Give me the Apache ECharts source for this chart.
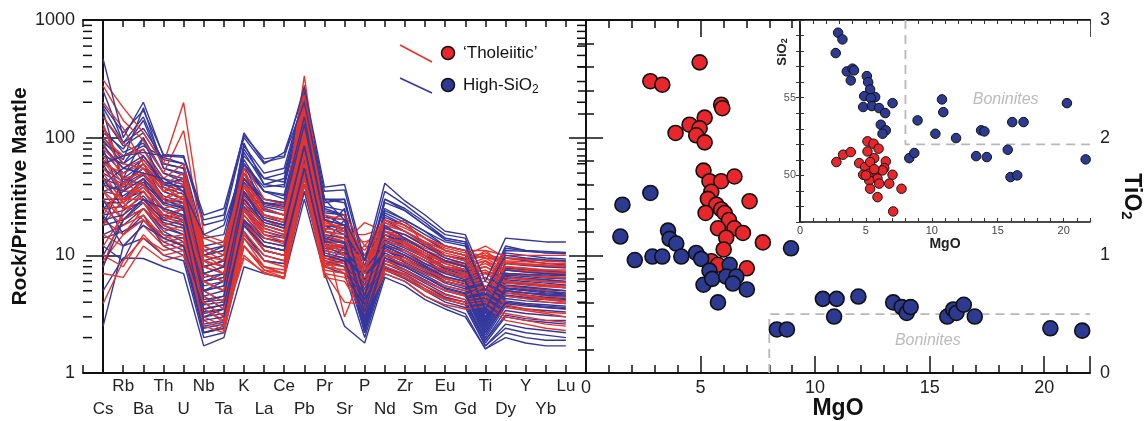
<!DOCTYPE html>
<html>
<head>
<meta charset="utf-8">
<script src="https://cdn.jsdelivr.net/npm/echarts@6/dist/echarts.min.js"></script>
<style>html,body{margin:0;padding:0;background:#fff}#chart{width:1146px;height:421px}</style>
</head>
<body>
<div id="chart"></div>
<script>
// spider diagram: elements in plotting order
var elements = ['Cs','Rb','Ba','Th','U','Nb','Ta','K','La','Ce','Pb','Pr','Sr','P','Nd','Zr','Sm','Eu','Gd','Ti','Dy','Y','Yb','Lu'];

// rock / primitive mantle, one row per sample
var tholeiiticLines = [
  [310,180,110,60,199,15,13,45,25,22,335,20,22,12,20,18,14,12,11,11,10,10,10,10],
  [275,140,95,50,115,12,10,40,22,20,280,18,18,10,18,16,13,11,10,12,9.5,9.3,9,9],
  [150,90,70,45,60,10,9,35,20,18,200,16,15,15,17,20,12,10,9,10,8.5,8.3,8.2,8],
  [120,60,55,30,40,8,7,30,18,16,160,14,13,19,16,14,11,9.5,8.5,11,8,7.8,7.5,7.5],
  [90,45,50,28,32,7,6,28,16,14,140,13,12,9,14,13,10,9,8,9,7.5,7.3,7,7],
  [70,40,40,25,28,6,5,25,15,13,120,12,11,8,13,12,9.5,8.5,7.5,8.5,7,6.8,6.5,6.4],
  [55,35,35,22,25,5,4,22,13,12,100,11,10,7,12,11,9,8,7,8,6.5,6.3,6,5.8],
  [45,30,30,20,22,4.5,3.5,20,12,11,90,10,9.5,12,11,10,8.5,7.5,6.5,9,6,5.8,5.5,5.3],
  [40,28,45,30,35,9,8,50,20,17,150,15,3,8,16,14,11,9,8.5,7,7.5,7.2,7,6.8],
  [35,25,28,18,20,4,3,18,11,10,80,9.5,9,6,10,9,7.5,6.5,6,7,5.5,5.2,5,4.8],
  [30,20,25,16,18,3.5,2.8,16,10,9,70,9,8.5,5.5,9.5,8.5,7,6,5.5,6,5,4.8,4.5,4.4],
  [25,18,22,14,15,3,2.5,15,9,8,60,8.5,8,5,9,8,6.5,5.5,5,5.5,4.5,4.3,4,3.9],
  [20,15,20,13,14,2.8,2.3,14,8,7.5,55,8,7.5,4.5,8.5,7.5,6,5,4.6,5,4,3.8,3.6,3.5],
  [15,12,18,12,13,2.5,2.2,12,7.5,7,50,7.5,7,4,8,7,5.5,4.6,4.2,4.5,3.6,3.4,3.2,3],
  [10,8,15,10,11,4,3,10,7,6.5,45,7,6.5,3.5,7.5,6.5,5,4.2,3.8,4,3.2,3,2.8,2.7],
  [7,6.5,12,9,10,3.5,2.7,9.5,7.2,6.3,40,6.5,6,3.2,7,6,4.5,3.8,3.5,3.7,2.8,2.6,2.4,2.3],
  [3.9,9,14,11,12,5,4,12,8,7,48,7.2,4,3.8,7.5,6.8,5.2,4.3,4,4.2,3,2.8,2.6,2.5],
  [100,70,80,40,50,12,10,60,30,27,190,22,20,10,20,17,14,11.5,10.5,10,9.5,9.2,9,8.8],
  [60,50,60,35,45,11,9,45,25,22,170,19,17,9,17,15,12.5,10.5,9.5,10.5,8.8,8.5,8.3,8.2],
  [80,55,65,38,30,14,12,40,28,25,130,20,16,11,19,16,13,11,10,9.5,9,8.8,8.6,8.5],
  [12,22,35,20,25,6,5,28,15,13,90,12,12,7,12,11,8.5,7.2,6.8,7.5,6,5.8,5.6,5.5],
  [18,30,38,24,20,7,6,32,17,15,110,13,14,8,13,12,9.5,8,7.5,8,6.5,6.2,6,5.9],
  [200,120,60,35,45,9,8,35,22,20,230,17,16,9,16,15,12,10,9,10,8.6,8.4,8.2,8],
  [8,25,45,28,30,8,7,30,18,16,120,14,10,10,14,13,10.5,9,8.2,9.5,7.6,7.4,7.2,7],
  [50,28,20,15,12,6,5,12,7.5,6.5,60,8,9,6,8.5,7.5,6,5,4.5,5.5,3.8,3.5,3.3,3.2],
  [130,45,30,22,18,5,4,24,14,12.5,95,11,12,7.5,11,10,8,7,6.4,7.2,5.8,5.6,5.4,5.3],
  [9,15,25,18,16,4.5,3.5,18,12,11,75,10,9,5,10,9.5,7.5,6.3,5.8,6.5,5,4.6,4.3,4.1],
  [65,35,50,30,40,10,8,55,22,19,180,16,14,13,15,14,11.5,10,9,10,8,7.7,7.5,7.3],
  [35,20,30,18,20,7,6,20,11,10,85,9,7,6.5,9,8.5,7,6,5.5,6.5,4.8,4.5,4.2,4],
  [22,40,55,35,38,9,7,38,20,18,140,15,13,8,14,12.5,10,8.8,8,9,7,6.8,6.6,6.5]
];
var highSiLines = [
  [465,100,200,70,68,20,22,110,62,68,270,38,40,9,41,29,22,16,15,6,14,13.5,13,13],
  [190,110,170,72,70,18,20,100,60,75,240,35,36,8,35,27,20,15,14,5,12,11,10.5,10.3],
  [180,90,120,65,60,14,15,70,45,50,210,30,28,7,28,24,18,13.5,12.5,4.5,10.5,10,9.5,9.3],
  [150,85,110,60,55,12,13,60,38,40,190,26,24,6,24,20,16,12,11,4.2,9.5,9,8.5,8.3],
  [120,75,90,50,45,10,11,55,35,33,160,23,22,5.5,21,18,14,11,10,4,8.5,8.2,8,7.8],
  [95,60,80,45,40,8,9,50,30,28,140,21,20,5,19,16,12.5,10,9,3.8,8,7.7,7.4,7.2],
  [85,55,70,42,38,7,8,45,28,26,130,20,18,4.5,17,15,12,9.5,8.5,3.5,7.5,7.2,7,6.8],
  [75,50,65,40,35,6.5,7,42,26,24,120,18,17,4.2,16,14,11,9,8,3.3,7,6.8,6.6,6.4],
  [65,45,60,38,33,6,6.5,40,24,22,110,17,16,4,15,13,10.5,8.5,7.6,3.2,6.6,6.4,6.2,6],
  [55,42,55,35,30,5.5,6,38,22,20,100,16,15,3.8,14,12,10,8,7.2,3,6.2,6,5.8,5.6],
  [50,40,50,32,28,5,5.5,35,21,19,95,15,14,3.6,13.5,11.5,9.5,7.6,6.8,2.9,5.9,5.7,5.5,5.3],
  [45,38,48,30,26,4.5,5,33,20,18,90,14.5,13,3.4,13,11,9,7.2,6.5,2.8,5.6,5.4,5.2,5],
  [40,35,45,28,25,4.2,4.5,30,19,17,85,14,12.5,3.3,12.5,10.5,8.5,7,6.2,2.7,5.3,5.1,4.9,4.8],
  [35,32,42,27,24,4,4.2,28,18,16,80,13,12,3.2,12,10,8.2,6.6,6,2.6,5,4.8,4.6,4.5],
  [30,30,40,25,22,3.8,4,26,17,15,75,12.5,11.5,3,11.5,9.5,7.8,6.3,5.7,2.5,4.8,4.6,4.4,4.3],
  [28,28,38,24,21,3.5,3.8,25,16,14.5,70,12,11,2.9,11,9,7.5,6,5.4,2.4,4.5,4.3,4.2,4.1],
  [25,26,35,22,20,3.3,3.5,24,15,14,65,11.5,10.5,2.8,10.5,8.7,7.2,5.8,5.2,2.3,4.3,4.1,4,3.9],
  [22,24,32,21,19,3,3.2,22,14,13,60,11,10,2.7,10,8.3,6.8,5.5,5,2.2,4.1,3.9,3.8,3.7],
  [20,22,30,20,18,2.8,3,20,13,12,55,10.5,9.5,2.6,9.5,8,6.5,5.2,4.7,2.1,3.9,3.7,3.6,3.5],
  [18,20,28,19,17,2.6,2.8,19,12,11,50,10,9,2.5,9,7.6,6.2,5,4.5,2,3.7,3.5,3.4,3.3],
  [15,18,25,17,15,2.4,2.6,18,11,10,45,9.5,8.5,2.4,8.5,7.2,5.8,4.7,4.2,1.9,3.4,3.2,3.1,3],
  [12,9,20,14,12,2.2,2.4,15,10,9,40,9,8,2.3,8,6.8,5.5,4.4,4,1.9,3.1,2.9,2.8,2.8],
  [5,9.5,9.4,8,7,1.7,2,8,7,6.4,30,7,2.5,1.8,6.5,5.5,4.2,3.5,3,1.6,2.2,2,1.9,1.9],
  [2.5,12,14,10,9,2,2.2,12,8,7,35,8,7,2,7,6,4.5,3.7,3.2,1.6,2,1.8,1.7,1.7],
  [60,70,75,70,70,22,25,105,66,70,200,30,20,9,25,20,16,13,12,5,10,9.5,9.2,9],
  [100,65,180,55,50,9,10,90,40,45,250,28,30,6,30,25,19,14,13,4.6,11,10.8,10.5,10.5],
  [170,40,60,30,25,3,3.5,50,25,22,120,16,25,3.5,15,12,9.5,7.8,7,2.5,6,5.8,5.6,5.5],
  [30,15,22,12,10,2.2,2.5,14,9,8.5,35,8,12,2.2,7.5,6.3,5,4,3.6,1.7,2.4,2.2,2.1,2],
  [80,30,45,18,15,5,6,30,18,16,80,13,20,4,12,10,8,6.5,6,3,5.2,5,4.8,4.7],
  [10,20,25,15,14,8,9,20,14,13,60,12,12,5,11,9.5,7.5,6,5.5,3.5,5,4.8,4.7,4.6],
  [40,55,50,45,35,15,18,60,35,30,150,20,18,4.5,18,14,11,9,8,3.5,7,6.9,6.8,6.7],
  [25,35,70,40,45,10,12,45,30,28,130,18,15,5,15,12.5,10,8,7.5,3,6.5,6.3,6.2,6],
  [130,45,100,35,30,6,7,45,28,27,180,20,16,4.5,16,13,10,8,7.4,3.4,6.4,6.2,6,5.9],
  [18,45,40,30,28,4,4.5,60,25,22,100,15,14,3.5,13,11,9,7.3,6.6,2.8,5.5,5.3,5.1,5],
  [60,30,35,22,20,3.2,3.5,35,18,16,90,12,10,3,11,9.5,7.5,6,5.5,2.4,4.6,4.4,4.3,4.2],
  [90,70,85,68,60,10,11,80,45,42,220,24,22,6,22,18,14,11,10,4,8.6,8.3,8,7.9],
  [8,20,30,25,22,5,5.5,35,20,18,85,13,13,3.8,12,10,8,6.6,6,2.7,5,4.8,4.6,4.5],
  [45,25,28,16,13,2.5,2.7,20,11,10,45,9,8,2.4,8,6.8,5.5,4.4,4,1.8,3,2.8,2.7,2.6],
  [110,80,140,55,48,7,8,65,35,32,170,22,18,5,20,16,13,10,9.3,3.6,7.8,7.5,7.3,7.1],
  [35,40,55,40,38,6,6.5,50,27,25,140,18,17,4.6,16,13.5,11,8.8,8,3.2,6.8,6.6,6.4,6.3],
  [14,16,20,13,11,2.2,2.4,16,9,8.5,40,8.5,9,2.2,7.8,6.5,5.2,4.2,3.8,1.7,2.6,2.4,2.3,2.2],
  [70,60,100,50,42,8,9,75,40,38,190,25,22,6,23,19,15,12,11,4.5,9.5,9.2,9,8.8],
  [22,12,18,14,12,3.5,3.8,18,12,11,55,10,9,3,9.5,8,6.5,5.3,4.8,2.2,4,3.8,3.7,3.6],
  [250,90,150,60,55,11,12,85,50,55,230,30,30,7,30,24,18,14,13,5,11.5,11,10.8,10.6]
];

// MgO vs TiO2
var tholMgoTio2 = [
  [4.96,2.64],[2.81,2.48],[3.33,2.45],[5.90,2.28],[5.95,2.25],[5.18,2.17],[4.52,2.11],[3.91,2.04],
  [4.96,2.08],[4.81,2.02],[5.18,1.96],[5.13,1.72],[5.39,1.63],[5.90,1.63],[6.48,1.67],[5.47,1.54],
  [5.32,1.48],[7.14,1.46],[5.69,1.43],[5.90,1.39],[6.05,1.36],[5.22,1.36],[6.24,1.30],[5.76,1.23],
  [6.48,1.23],[6.85,1.19],[6.12,1.15],[7.72,1.11],[6.01,1.05],[5.47,0.95],[5.76,0.92],[7.02,0.89]
];
var highSiMgoTio2 = [
  [1.59,1.43],[2.81,1.53],[1.50,1.16],[2.13,0.96],[2.90,0.99],[3.33,0.99],[3.58,1.21],[3.65,1.14],
  [3.94,1.10],[4.16,0.99],[4.81,1.02],[5.03,0.97],[5.39,0.87],[5.13,0.75],[5.51,0.80],[6.27,0.92],
  [6.12,0.82],[6.56,0.82],[6.41,0.76],[7.02,0.71],[5.76,0.60],[8.95,1.06],[8.33,0.37],[8.77,0.37],
  [10.34,0.63],[10.94,0.63],[11.89,0.65],[10.83,0.48],[13.41,0.60],[13.78,0.56],[14.00,0.51],[14.17,0.56],
  [15.77,0.48],[16.03,0.54],[16.17,0.51],[16.49,0.58],[16.97,0.48],[20.27,0.38],[21.66,0.36]
];

// inset: MgO vs SiO2
var tholMgoSio2 = [
  [2.76,50.86],[3.27,51.33],[3.85,51.50],[4.49,50.79],[5.12,52.19],[5.58,52.04],[5.96,51.72],[5.12,51.54],
  [5.63,51.11],[4.94,50.53],[5.32,50.86],[6.51,50.90],[6.39,50.47],[4.79,50.04],[5.25,50.11],[5.80,50.21],
  [6.26,50.32],[5.88,49.79],[5.25,49.68],[7.02,50.04],[6.77,49.47],[6.01,49.47],[5.32,49.14],[7.70,49.14],
  [5.88,48.60],[7.07,47.68],[5.00,50.00],[5.63,50.40]
];
var highSiMgoSio2 = [
  [2.89,59.18],[3.22,58.75],[2.71,57.87],[3.55,56.69],[3.98,56.87],[4.10,56.76],[3.85,56.11],[5.07,56.39],
  [5.17,56.00],[5.32,55.53],[4.87,55.10],[5.70,55.04],[5.37,54.97],[4.79,54.40],[5.45,54.46],[6.00,54.33],
  [6.46,54.01],[7.02,54.65],[6.13,53.26],[6.51,52.90],[6.26,52.68],[8.92,53.54],[10.77,54.89],[10.87,54.07],
  [10.27,52.68],[11.84,52.40],[13.74,52.90],[13.99,52.83],[16.10,53.43],[16.96,53.43],[20.25,54.65],[8.29,51.11],
  [8.67,51.44],[13.36,51.24],[14.17,51.18],[15.76,51.65],[15.97,49.89],[16.48,50.00],[21.67,51.03]
];

// boninite field outlines
var boniniteTio2 = [[8,0],[8,0.5],[22,0.5]];
var boniniteSio2 = [[8,60],[8,52],[22,52]];
var logMinor = [2,3,4,5,6,7,8,9,20,30,40,50,60,70,80,90,200,300,400,500,600,700,800,900];

var RED = '#e6342c', BLUE = '#34379c';
var FILL_R = '#e8262b', FILL_B = '#2c3a92';
var FONT = 'Liberation Sans';
var axisLn = {show: true, lineStyle: {color: '#111', width: 2}};
var tickLn = {color: '#111', width: 1.5};

var chart = echarts.init(document.getElementById('chart'));

function plainAxis(o) {
  var base = {splitLine: {show: false}, axisLine: axisLn, axisLabel: {show: false},
    axisTick: {show: true, inside: true, length: 8, lineStyle: tickLn}};
  for (var k in o) base[k] = o[k];
  return base;
}

var xAxes = [
  plainAxis({gridIndex: 0, type: 'value', position: 'bottom', min: -1, max: 24, interval: 1,
    axisLabel: {show: true, margin: 5, fontSize: 17, color: '#222', fontFamily: FONT,
      formatter: function (v) { return (v >= 0 && v < elements.length && v % 2 === 1) ? elements[v] : ''; }}}),
  plainAxis({gridIndex: 0, type: 'value', position: 'bottom', min: -1, max: 24, interval: 1,
    axisLine: {show: false}, axisTick: {show: false},
    axisLabel: {show: true, margin: 28, fontSize: 17, color: '#222', fontFamily: FONT,
      formatter: function (v) { return (v >= 0 && v < elements.length && v % 2 === 0) ? elements[v] : ''; }}}),
  plainAxis({gridIndex: 0, type: 'value', position: 'top', min: -1, max: 24, interval: 1,
    axisTick: {show: true, inside: true, length: 7, lineStyle: tickLn}}),
  plainAxis({gridIndex: 1, type: 'value', position: 'bottom', min: 0, max: 22, interval: 1,
    name: 'MgO', nameLocation: 'middle', nameGap: 24, nameMoveOverlap: false,
    nameTextStyle: {fontSize: 23, fontWeight: 'bold', color: '#111', fontFamily: FONT},
    axisLabel: {show: true, margin: 6, fontSize: 18, color: '#222', fontFamily: FONT,
      formatter: function (v) { return v % 5 === 0 ? String(v) : ''; }}}),
  plainAxis({gridIndex: 1, type: 'value', position: 'bottom', min: 0, max: 22, interval: 5,
    axisLine: {show: false}, axisTick: {show: true, inside: true, length: 17, lineStyle: tickLn}}),
  plainAxis({gridIndex: 1, type: 'value', position: 'top', min: 0, max: 22, interval: 1}),
  plainAxis({gridIndex: 1, type: 'value', position: 'top', min: 0, max: 22, interval: 5,
    axisLine: {show: false}, axisTick: {show: true, inside: true, length: 17, lineStyle: tickLn}}),
  plainAxis({gridIndex: 2, type: 'value', position: 'bottom', min: 0, max: 22, interval: 1, z: 8,
    axisLine: {show: true, lineStyle: {color: '#111', width: 1.5}},
    axisTick: {show: true, inside: true, length: 4, lineStyle: {color: '#333', width: 1}},
    name: 'MgO', nameLocation: 'middle', nameGap: 15,
    nameTextStyle: {fontSize: 14, fontWeight: 'bold', color: '#222', fontFamily: FONT},
    axisLabel: {show: true, margin: 3, fontSize: 11, color: '#444', fontFamily: FONT,
      formatter: function (v) { return v % 5 === 0 ? String(v) : ''; }}}),
  plainAxis({gridIndex: 2, type: 'value', position: 'top', min: 0, max: 22, interval: 1, z: 8,
    axisLine: {show: true, lineStyle: {color: '#111', width: 1.5}},
    axisTick: {show: true, inside: true, length: 4, lineStyle: {color: '#333', width: 1}}})
];

var yAxes = [
  plainAxis({gridIndex: 0, type: 'log', logBase: 10, min: 1, max: 1000, position: 'left',
    axisTick: {show: true, inside: true, length: 17, lineStyle: tickLn},
    name: 'Rock/Primitive Mantle', nameLocation: 'middle', nameGap: 50,
    nameTextStyle: {fontSize: 21, fontWeight: 'bold', color: '#111', fontFamily: FONT},
    axisLabel: {show: true, margin: 8, fontSize: 18, color: '#222', fontFamily: FONT,
      formatter: function (v) { return String(Math.round(v)); }}}),
  plainAxis({gridIndex: 0, type: 'log', logBase: 10, min: 1, max: 1000, position: 'right',
    axisTick: {show: true, inside: true, length: 17, lineStyle: tickLn}}),
  plainAxis({gridIndex: 1, type: 'value', min: 0, max: 3, interval: 1, position: 'left',
    axisTick: {show: true, inside: true, length: 17, lineStyle: tickLn},
    minorTick: {show: true, splitNumber: 5, length: 8, lineStyle: tickLn}}),
  plainAxis({gridIndex: 1, type: 'value', min: 0, max: 3, interval: 1, position: 'right',
    axisTick: {show: true, inside: true, length: 17, lineStyle: tickLn},
    minorTick: {show: true, splitNumber: 5, length: 8, lineStyle: tickLn},
    name: '{a|TiO}{b|2}', nameLocation: 'middle', nameGap: 29, nameRotate: -90,
    nameTextStyle: {rich: {
      a: {fontSize: 23, fontWeight: 'bold', color: '#111', fontFamily: FONT},
      b: {fontSize: 15, fontWeight: 'bold', color: '#111', fontFamily: FONT, padding: [10, 0, 0, 0]}}},
    axisLabel: {show: true, margin: 10, fontSize: 18, color: '#222', fontFamily: FONT}}),
  plainAxis({gridIndex: 2, type: 'value', min: 47, max: 60, interval: 1, position: 'left', z: 8,
    axisLine: {show: true, lineStyle: {color: '#111', width: 1.5}},
    axisTick: {show: true, inside: true, length: 4, lineStyle: {color: '#333', width: 1}},
    axisLabel: {show: true, margin: 4, fontSize: 11, color: '#555', fontFamily: FONT,
      formatter: function (v) { return (v === 50 || v === 55) ? String(v) : ''; }}}),
  plainAxis({gridIndex: 2, type: 'value', min: 47, max: 60, interval: 1, position: 'right', z: 8,
    axisLine: {show: true, lineStyle: {color: '#111', width: 1.5}},
    axisTick: {show: true, inside: true, length: 4, lineStyle: {color: '#333', width: 1}}})
];

var series = [];
function profile(row, color, z) {
  return {type: 'line', xAxisIndex: 0, yAxisIndex: 0, symbol: 'none', silent: true, z: z,
    lineStyle: {color: color, width: 1.4}, data: row.map(function (v, i) { return [i, v]; })};
}
// blue group underneath, red group on top except a few blue ones
highSiLines.forEach(function (row, i) { series.push(profile(row, BLUE, i % 6 === 0 ? 4 : 2)); });
tholeiiticLines.forEach(function (row) { series.push(profile(row, RED, 3)); });

// log minor ticks on both sides of the spider panel
series.push({type: 'custom', xAxisIndex: 0, yAxisIndex: 0, silent: true, clip: false, z: 5,
  data: logMinor.map(function (v) { return [0, v]; }),
  renderItem: function (params, api) {
    var v = api.value(1);
    var l = api.coord([-1, v]), r = api.coord([24, v]);
    var st = {stroke: '#111', lineWidth: 1.5};
    return {type: 'group', children: [
      {type: 'line', shape: {x1: l[0], y1: l[1], x2: l[0] + 9, y2: l[1]}, style: st},
      {type: 'line', shape: {x1: r[0], y1: r[1], x2: r[0] - 9, y2: r[1]}, style: st}
    ]};
  }});

function dots(data, fill, size, xi, yi, z) {
  return {type: 'scatter', xAxisIndex: xi, yAxisIndex: yi, symbol: 'circle', symbolSize: size, z: z, silent: true,
    itemStyle: {color: fill, borderColor: '#111', borderWidth: size > 10 ? 1.6 : 1, opacity: 1}, data: data};
}
function dashed(data, xi, yi, z) {
  return {type: 'line', xAxisIndex: xi, yAxisIndex: yi, symbol: 'none', silent: true, z: z,
    lineStyle: {color: '#b8b8b8', width: 1.8, type: [9, 6]}, data: data};
}
function tag(pt, xi, yi, z) {
  return {type: 'scatter', xAxisIndex: xi, yAxisIndex: yi, symbolSize: 0, silent: true, z: z, data: [pt],
    label: {show: true, position: 'inside', formatter: 'Boninites', fontStyle: 'italic',
      fontSize: 16, color: '#aaaaaa', fontFamily: FONT}};
}

series.push(dashed(boniniteTio2, 3, 3, 2));
series.push(tag([14.92, 0.28], 3, 3, 2));
series.push(dots(tholMgoTio2, FILL_R, 15, 3, 3, 3));
series.push(dots(highSiMgoTio2, FILL_B, 15, 3, 3, 4));

series.push(dashed(boniniteSio2, 7, 4, 9));
series.push(tag([15.6, 54.9], 7, 4, 9));
series.push(dots(tholMgoSio2, FILL_R, 9.5, 7, 4, 10));
series.push(dots(highSiMgoSio2, FILL_B, 9.5, 7, 4, 10));

var option = {
  animation: false,
  backgroundColor: '#fff',
  textStyle: {fontFamily: FONT},
  grid: [
    {left: 83, top: 20, width: 503, height: 353, outerBoundsMode: 'none'},
    {left: 586, top: 20, width: 504, height: 353, outerBoundsMode: 'none'},
    {left: 800, top: 20, width: 290, height: 202, show: true, backgroundColor: '#fff', borderWidth: 0, z: 6, outerBoundsMode: 'none'}
  ],
  xAxis: xAxes,
  yAxis: yAxes,
  series: series,
  graphic: [
    {type: 'line', z: 20, shape: {x1: 400, y1: 45, x2: 432, y2: 62}, style: {stroke: RED, lineWidth: 1.6}},
    {type: 'circle', z: 20, shape: {cx: 448, cy: 53, r: 6.5}, style: {fill: FILL_R, stroke: '#111', lineWidth: 1.5}},
    {type: 'text', z: 20, x: 463, y: 53, style: {text: '\u2018Tholeiitic\u2019', fontSize: 17, fill: '#111',
      fontFamily: FONT, verticalAlign: 'middle'}},
    {type: 'line', z: 20, shape: {x1: 400, y1: 78, x2: 432, y2: 93}, style: {stroke: BLUE, lineWidth: 1.6}},
    {type: 'circle', z: 20, shape: {cx: 448, cy: 85, r: 6.5}, style: {fill: FILL_B, stroke: '#111', lineWidth: 1.5}},
    {type: 'text', z: 20, x: 463, y: 85, style: {text: '{a|High-SiO}{b|2}', verticalAlign: 'middle',
      rich: {a: {fontSize: 17, fill: '#111', fontFamily: FONT},
             b: {fontSize: 12, fill: '#111', fontFamily: FONT, padding: [9, 0, 0, 0]}}}},
    {type: 'text', z: 20, x: 782, y: 52, rotation: Math.PI / 2, style: {text: '{a|SiO}{b|2}',
      align: 'center', verticalAlign: 'middle',
      rich: {a: {fontSize: 13, fontWeight: 'bold', fill: '#222', fontFamily: FONT},
             b: {fontSize: 9, fontWeight: 'bold', fill: '#222', fontFamily: FONT, padding: [6, 0, 0, 0]}}}}
  ]
};
chart.setOption(option);
</script>
</body>
</html>
